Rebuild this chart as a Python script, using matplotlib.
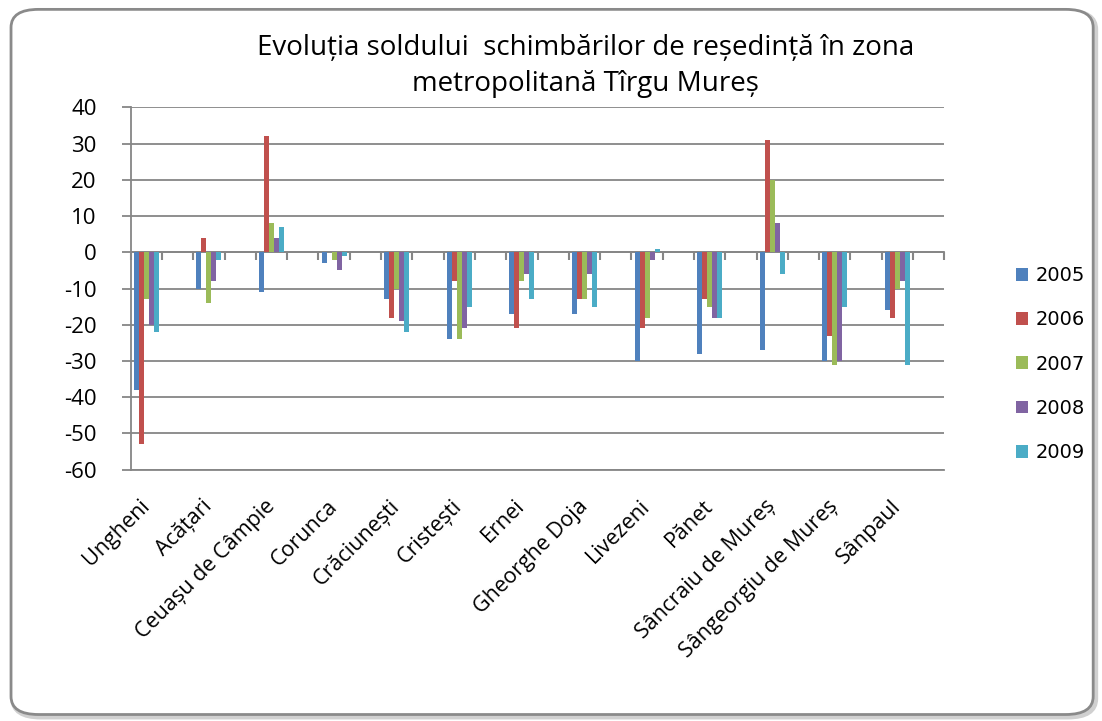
import numpy as np
import matplotlib
matplotlib.use("Agg")
import matplotlib.pyplot as plt
from matplotlib.patches import FancyBboxPatch

plt.rcParams['axes.unicode_minus'] = False

localitati = ['Ungheni', 'Acățari', 'Ceuașu de Câmpie', 'Corunca', 'Crăciunești',
              'Cristești', 'Ernei', 'Gheorghe Doja', 'Livezeni', 'Pănet',
              'Sâncraiu de Mureș', 'Sângeorgiu de Mureș', 'Sânpaul']
ani = ['2005', '2006', '2007', '2008', '2009']

v2005 = [-38, -10, -11, -3, -13, -24, -17, -17, -30, -28, -27, -30, -16]
v2006 = [-53, 4, 32, 0, -18, -8, -21, -13, -21, -13, 31, -23, -18]
v2007 = [-13, -14, 8, -2, -10, -24, -8, -13, -18, -15, 20, -31, -10]
v2008 = [-20, -8, 4, -5, -19, -21, -6, -6, -2, -18, 8, -30, -8]
v2009 = [-22, -2, 7, -1, -22, -15, -13, -15, 1, -18, -6, -15, -31]

culori = ['#4F81BD', '#C0504D', '#9BBB59', '#8064A2', '#4BACC6']
gri = '#868686'

fig = plt.figure(figsize=(11.02, 7.21), dpi=100)

# chenarul rotunjit al diagramei
fig.patches.append(FancyBboxPatch((0.012, 0.006), 0.982, 0.978,
                                  boxstyle='round,pad=0,rounding_size=0.025',
                                  transform=fig.transFigure, facecolor='none',
                                  edgecolor='#d0d0d0', lw=4, zorder=-2))
fig.patches.append(FancyBboxPatch((0.010, 0.009), 0.982, 0.978,
                                  boxstyle='round,pad=0,rounding_size=0.025',
                                  transform=fig.transFigure, facecolor='white',
                                  edgecolor='#8a8a8a', lw=2, zorder=-1))

ax = fig.add_axes([0.1186, 0.3485, 0.7383, 0.5027])
ax.set_facecolor('none')

serii = [v2005, v2006, v2007, v2008, v2009]
x = np.arange(len(localitati)) * 2
w = 0.16
for k, (vals, c, an) in enumerate(zip(serii, culori, ani)):
    ax.bar(x + (k - 2) * w, vals, width=w, color=c, label=an, zorder=3)

ax.set_xlim(-0.5, 2 * len(localitati) - 0.5)
ax.set_ylim(-60, 40)
ax.set_yticks(np.arange(-60, 41, 10))
ax.set_axisbelow(True)
ax.yaxis.grid(True, color=gri, lw=1.3)

for s in ['top', 'right']:
    ax.spines[s].set_visible(False)
for s in ['left', 'bottom']:
    ax.spines[s].set_color(gri)
    ax.spines[s].set_linewidth(1.3)

ax.tick_params(axis='y', length=6.5, color=gri, width=1.3, pad=18,
               labelsize=16, labelcolor='black')
for t in ax.get_yticklabels():
    t.set_family('Open Sans')

ax.set_xticks(x)
ax.set_xticklabels(localitati, rotation=45, ha='right', va='center',
                   rotation_mode='anchor', fontsize=15.5, family='Open Sans')
ax.tick_params(axis='x', length=0, pad=24)

# axa orizontala la zero, cu marcaje intre categorii
poz0 = (0 - (-60)) / (40 - (-60))
ax0 = ax.secondary_xaxis(poz0)
ax0.set_xticks(np.arange(-0.5, 2 * len(localitati), 1.0))
ax0.set_xticklabels([])
ax0.tick_params(axis='x', direction='in', length=6, color=gri, width=1.5)
for s in ax0.spines.values():
    s.set_color(gri)
    s.set_linewidth(1.3)

fig.text(0.531, 0.908, 'Evoluția soldului  schimbărilor de reședință în zona\nmetropolitană Tîrgu Mureș',
         ha='center', va='center', fontsize=20, family='Open Sans',
         linespacing=1.385)

fig.legend(loc='upper left', bbox_to_anchor=(1016 / 1102, 1 - 266 / 721),
           frameon=False, fontsize=14, handlelength=0.64, handleheight=0.64,
           handletextpad=0.37, labelspacing=1.3, borderpad=0, borderaxespad=0)

fig.savefig('out.png', dpi=100)
